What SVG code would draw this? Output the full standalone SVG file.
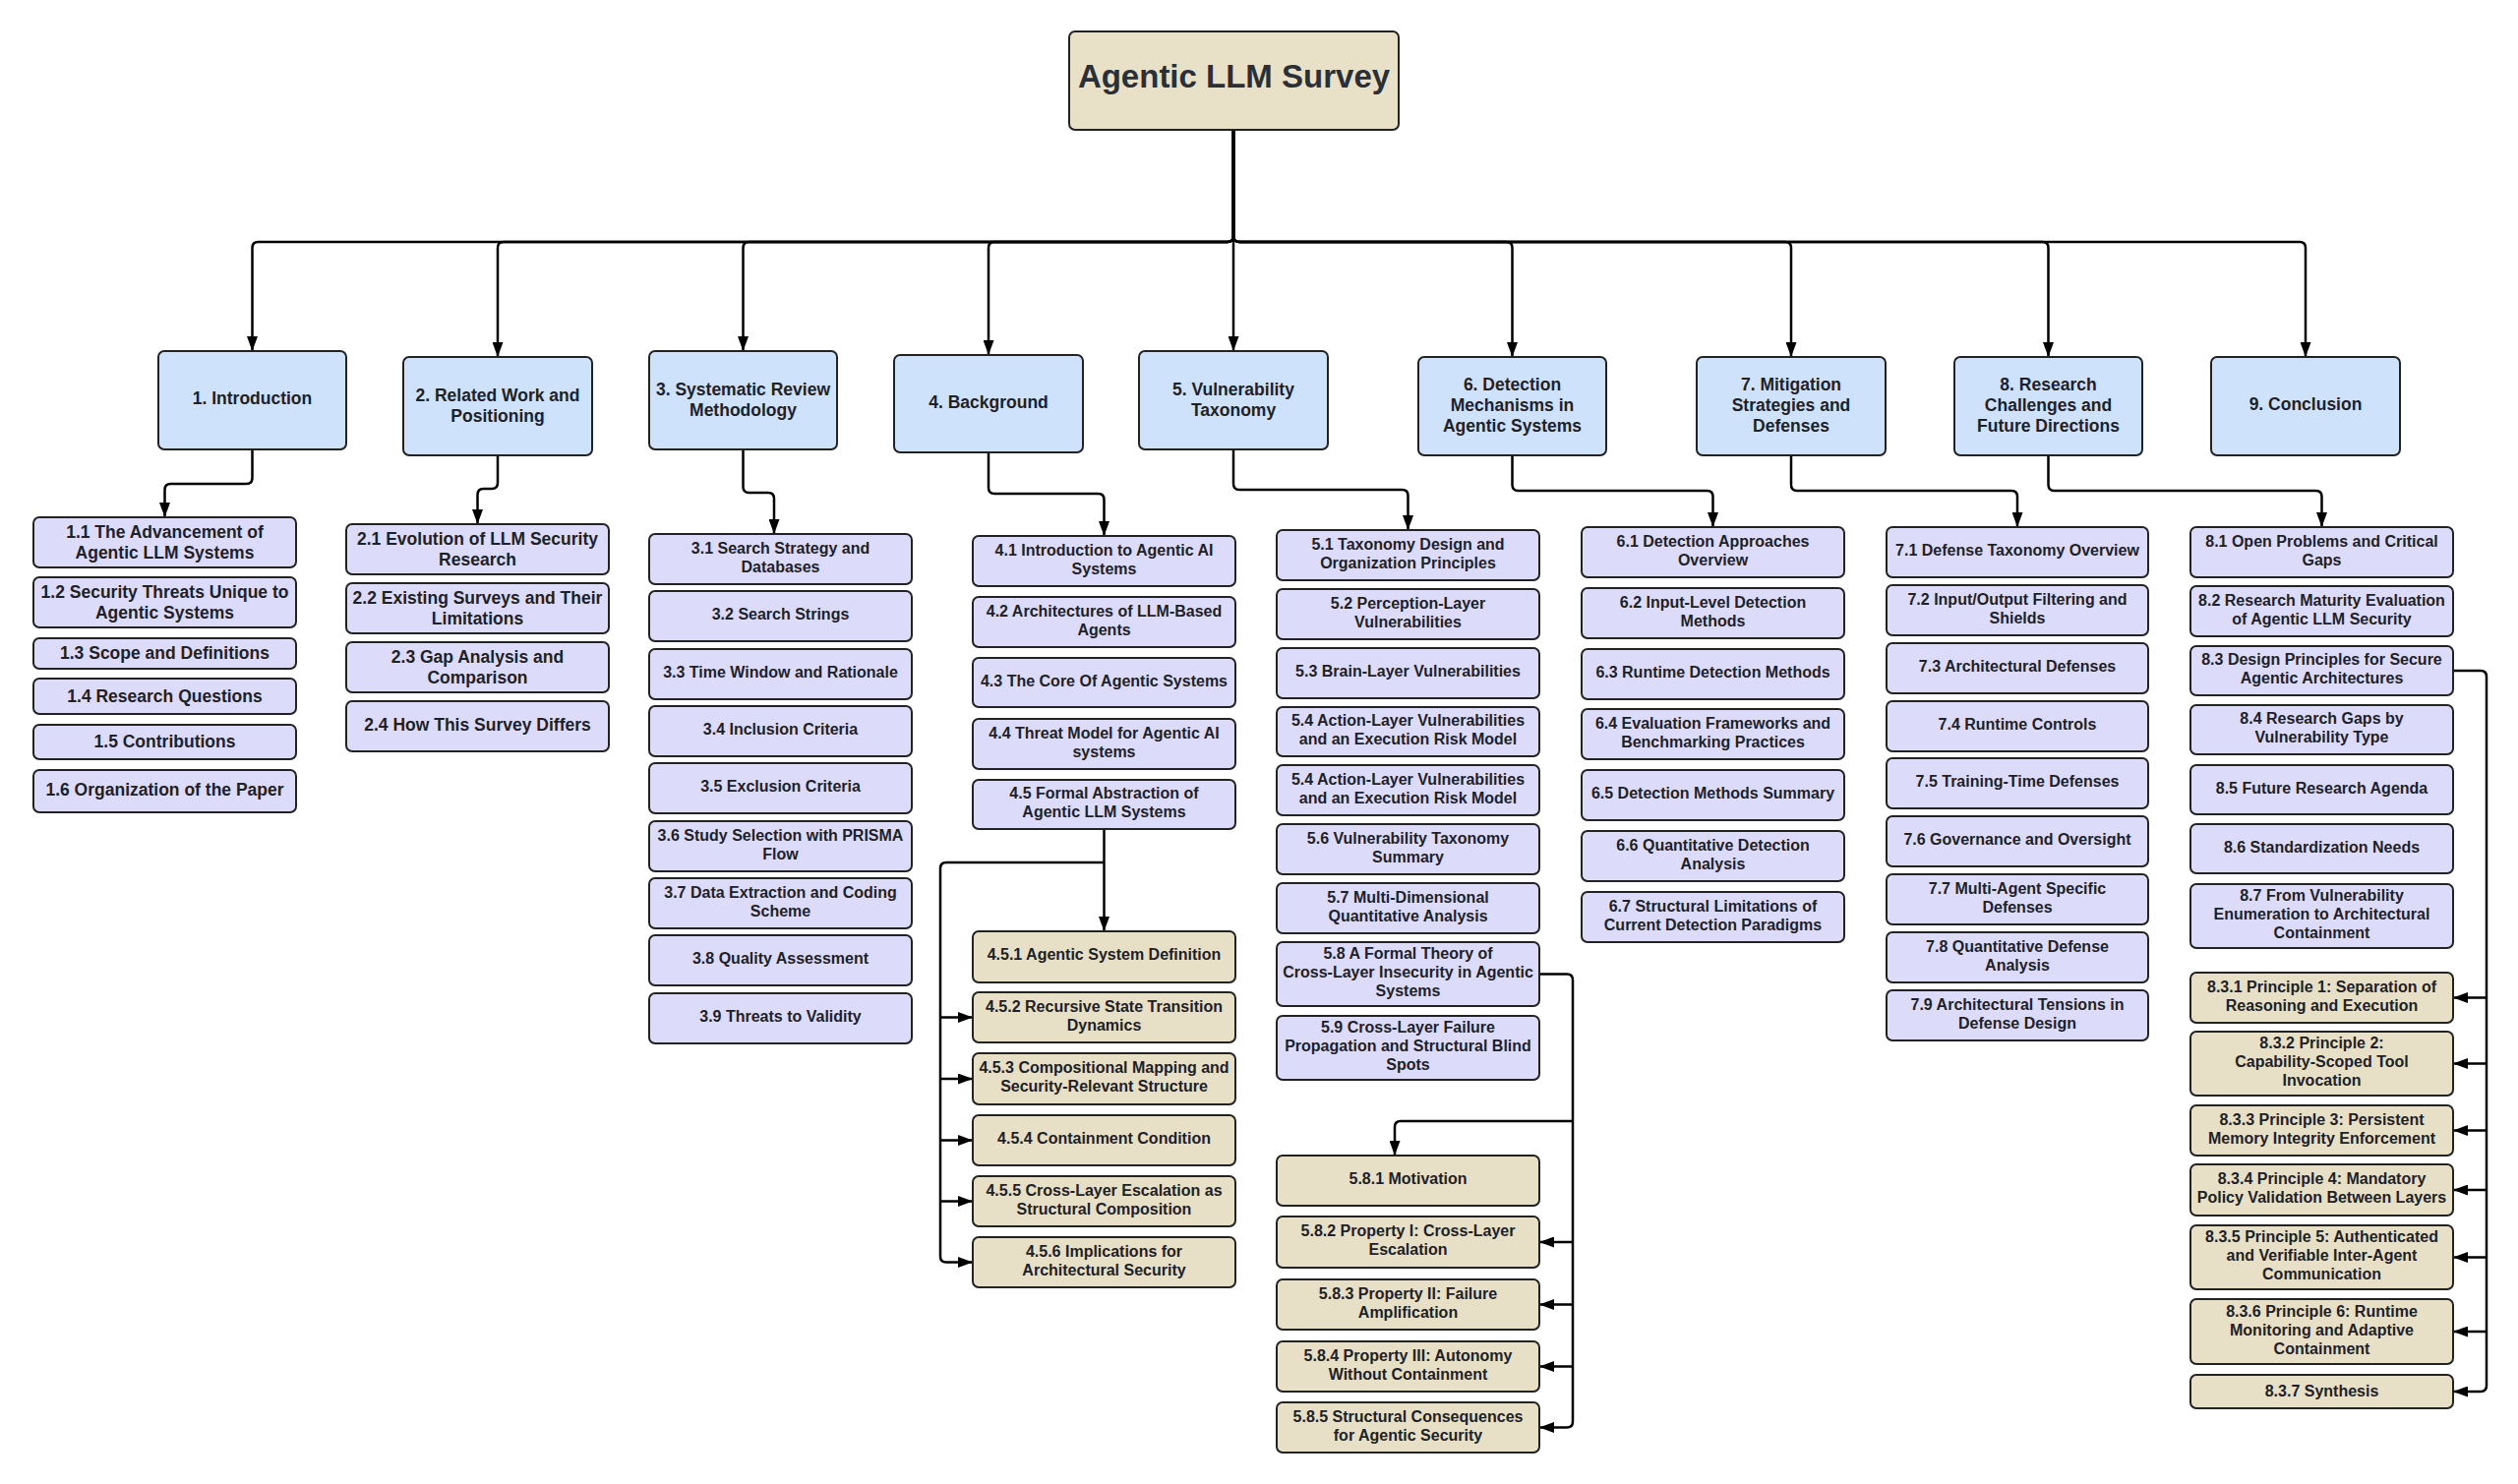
<svg xmlns="http://www.w3.org/2000/svg" width="2560" height="1509" viewBox="0 0 2560 1509">
<style>
.t{font-family:"Liberation Sans",Arial,sans-serif;font-weight:bold;fill:#1e2127;text-anchor:middle}
.f18{font-size:17.5px}
.f16{font-size:16px}
.rt{font-size:33px;fill:#2b2f38}
.top rect{fill:#cfe2fb;stroke:#222;stroke-width:2}
.sub rect{fill:#dcdcfa;stroke:#222;stroke-width:2}
.leaf rect{fill:#e7e0c6;stroke:#222;stroke-width:2}
.root rect{fill:#e8e1c7;stroke:#222;stroke-width:2}
.c path{fill:none;stroke:#000;stroke-width:2.5;marker-end:url(#ah)}
</style>
<defs>
<marker id="ah" viewBox="0 0 15 11" refX="15" refY="5.5" markerWidth="15" markerHeight="11" markerUnits="userSpaceOnUse" orient="auto"><path d="M0,0 L15,5.5 L0,11 z" fill="#000"/></marker>
</defs>
<rect width="2560" height="1509" fill="#fff"/>

<g class="c" id="connectors">
<path d="M1254,132 V240 Q1254,246 1248,246 H262.5 Q256.5,246 256.5,252 V357"/>
<path d="M1254,132 V240 Q1254,246 1248,246 H512 Q506,246 506,252 V363"/>
<path d="M1254,132 V240 Q1254,246 1248,246 H761.5 Q755.5,246 755.5,252 V357"/>
<path d="M1254,132 V240 Q1254,246 1248,246 H1011 Q1005,246 1005,252 V361"/>
<path d="M1254,132 V357"/>
<path d="M1254,132 V240 Q1254,246 1260,246 H1531.5 Q1537.5,246 1537.5,252 V363"/>
<path d="M1254,132 V240 Q1254,246 1260,246 H1815 Q1821,246 1821,252 V363"/>
<path d="M1254,132 V240 Q1254,246 1260,246 H2076.5 Q2082.5,246 2082.5,252 V363"/>
<path d="M1254,132 V240 Q1254,246 1260,246 H2338 Q2344,246 2344,252 V363"/>

<path d="M256.5,457 V486 Q256.5,492 250.5,492 H173.5 Q167.5,492 167.5,498 V526"/>
<path d="M506,463 V491 Q506,497 500,497 H491.5 Q485.5,497 485.5,503 V533"/>
<path d="M755.5,457 V495 Q755.5,501 761.5,501 H781 Q787,501 787,507 V543"/>
<path d="M1005,460 V496 Q1005,502 1011,502 H1116.5 Q1122.5,502 1122.5,508 V545"/>
<path d="M1254,457 V492 Q1254,498 1260,498 H1425.5 Q1431.5,498 1431.5,504 V539"/>
<path d="M1537.5,463 V493 Q1537.5,499 1543.5,499 H1735.5 Q1741.5,499 1741.5,505 V536"/>
<path d="M1821,463 V493 Q1821,499 1827,499 H2045 Q2051,499 2051,505 V536"/>
<path d="M2082.5,463 V493 Q2082.5,499 2088.5,499 H2354.5 Q2360.5,499 2360.5,505 V536"/>

<path d="M1122.5,843 V947"/>
<path d="M1122.5,877 H962 Q956,877 956,883 V1277.5 Q956,1283.5 962,1283.5 H989"/>
<path d="M956,1034.5 H989"/>
<path d="M956,1097 H989"/>
<path d="M956,1159.5 H989"/>
<path d="M956,1221.5 H989"/>

<path d="M1565,990.5 H1593 Q1599,990.5 1599,996.5 V1445.5 Q1599,1451.5 1593,1451.5 H1565"/>
<path d="M1599,1263 H1565"/>
<path d="M1599,1326.5 H1565"/>
<path d="M1599,1389.5 H1565"/>
<path d="M1599,1140 H1424 Q1418,1140 1418,1146 V1175"/>

<path d="M2494,682 H2522 Q2528,682 2528,688 V1409 Q2528,1415 2522,1415 H2494"/>
<path d="M2528,1014.5 H2494"/>
<path d="M2528,1081.5 H2494"/>
<path d="M2528,1149.5 H2494"/>
<path d="M2528,1210 H2494"/>
<path d="M2528,1278.5 H2494"/>
<path d="M2528,1354 H2494"/>
</g>

<g class="root" id="root"><rect x="1087" y="32" width="335" height="100" rx="6"/><text class="t rt" x="1254.5" y="88.5">Agentic LLM Survey</text></g>

<g class="top" id="s1"><rect x="161" y="357" width="191" height="100" rx="6"/><text class="t f18" x="256.5" y="411">1. Introduction</text></g>
<g class="top" id="s2"><rect x="410" y="363" width="192" height="100" rx="6"/><text class="t f18" x="506" y="408">2. Related Work and</text><text class="t f18" x="506" y="429">Positioning</text></g>
<g class="top" id="s3"><rect x="660" y="357" width="191" height="100" rx="6"/><text class="t f18" x="755.5" y="402">3. Systematic Review</text><text class="t f18" x="755.5" y="423">Methodology</text></g>
<g class="top" id="s4"><rect x="909" y="361" width="192" height="99" rx="6"/><text class="t f18" x="1005" y="414.5">4. Background</text></g>
<g class="top" id="s5"><rect x="1158" y="357" width="192" height="100" rx="6"/><text class="t f18" x="1254" y="402">5. Vulnerability</text><text class="t f18" x="1254" y="423">Taxonomy</text></g>
<g class="top" id="s6"><rect x="1442" y="363" width="191" height="100" rx="6"/><text class="t f18" x="1537.5" y="397">6. Detection</text><text class="t f18" x="1537.5" y="418">Mechanisms in</text><text class="t f18" x="1537.5" y="439">Agentic Systems</text></g>
<g class="top" id="s7"><rect x="1725" y="363" width="192" height="100" rx="6"/><text class="t f18" x="1821" y="397">7. Mitigation</text><text class="t f18" x="1821" y="418">Strategies and</text><text class="t f18" x="1821" y="439">Defenses</text></g>
<g class="top" id="s8"><rect x="1987" y="363" width="191" height="100" rx="6"/><text class="t f18" x="2082.5" y="397">8. Research</text><text class="t f18" x="2082.5" y="418">Challenges and</text><text class="t f18" x="2082.5" y="439">Future Directions</text></g>
<g class="top" id="s9"><rect x="2248" y="363" width="192" height="100" rx="6"/><text class="t f18" x="2344" y="417">9. Conclusion</text></g>

<g class="sub" id="s1_1"><rect x="34" y="526" width="267" height="51" rx="6"/><text class="t f18" x="167.5" y="547">1.1 The Advancement of</text><text class="t f18" x="167.5" y="568">Agentic LLM Systems</text></g>
<g class="sub" id="s1_2"><rect x="34" y="587" width="267" height="51" rx="6"/><text class="t f18" x="167.5" y="608">1.2 Security Threats Unique to</text><text class="t f18" x="167.5" y="629">Agentic Systems</text></g>
<g class="sub" id="s1_3"><rect x="34" y="649" width="267" height="31" rx="6"/><text class="t f18" x="167.5" y="670">1.3 Scope and Definitions</text></g>
<g class="sub" id="s1_4"><rect x="34" y="690" width="267" height="36" rx="6"/><text class="t f18" x="167.5" y="713.5">1.4 Research Questions</text></g>
<g class="sub" id="s1_5"><rect x="34" y="737" width="267" height="35" rx="6"/><text class="t f18" x="167.5" y="760">1.5 Contributions</text></g>
<g class="sub" id="s1_6"><rect x="34" y="783" width="267" height="43" rx="6"/><text class="t f18" x="167.5" y="808.5">1.6 Organization of the Paper</text></g>

<g class="sub" id="s2_1"><rect x="352" y="533" width="267" height="51" rx="6"/><text class="t f18" x="485.5" y="554">2.1 Evolution of LLM Security</text><text class="t f18" x="485.5" y="575">Research</text></g>
<g class="sub" id="s2_2"><rect x="352" y="593" width="267" height="51" rx="6"/><text class="t f18" x="485.5" y="614">2.2 Existing Surveys and Their</text><text class="t f18" x="485.5" y="635">Limitations</text></g>
<g class="sub" id="s2_3"><rect x="352" y="653" width="267" height="51" rx="6"/><text class="t f18" x="485.5" y="674">2.3 Gap Analysis and</text><text class="t f18" x="485.5" y="695">Comparison</text></g>
<g class="sub" id="s2_4"><rect x="352" y="713" width="267" height="51" rx="6"/><text class="t f18" x="485.5" y="742.5">2.4 How This Survey Differs</text></g>

<g class="sub" id="s3_1"><rect x="660" y="543" width="267" height="51" rx="6"/><text class="t f16" x="793.5" y="562.5">3.1 Search Strategy and</text><text class="t f16" x="793.5" y="581.5">Databases</text></g>
<g class="sub" id="s3_2"><rect x="660" y="601" width="267" height="51" rx="6"/><text class="t f16" x="793.5" y="630">3.2 Search Strings</text></g>
<g class="sub" id="s3_3"><rect x="660" y="660" width="267" height="51" rx="6"/><text class="t f16" x="793.5" y="689">3.3 Time Window and Rationale</text></g>
<g class="sub" id="s3_4"><rect x="660" y="718" width="267" height="51" rx="6"/><text class="t f16" x="793.5" y="747">3.4 Inclusion Criteria</text></g>
<g class="sub" id="s3_5"><rect x="660" y="776" width="267" height="51" rx="6"/><text class="t f16" x="793.5" y="805">3.5 Exclusion Criteria</text></g>
<g class="sub" id="s3_6"><rect x="660" y="835" width="267" height="51" rx="6"/><text class="t f16" x="793.5" y="854.5">3.6 Study Selection with PRISMA</text><text class="t f16" x="793.5" y="873.5">Flow</text></g>
<g class="sub" id="s3_7"><rect x="660" y="893" width="267" height="51" rx="6"/><text class="t f16" x="793.5" y="912.5">3.7 Data Extraction and Coding</text><text class="t f16" x="793.5" y="931.5">Scheme</text></g>
<g class="sub" id="s3_8"><rect x="660" y="951" width="267" height="51" rx="6"/><text class="t f16" x="793.5" y="980">3.8 Quality Assessment</text></g>
<g class="sub" id="s3_9"><rect x="660" y="1010" width="267" height="51" rx="6"/><text class="t f16" x="793.5" y="1039">3.9 Threats to Validity</text></g>

<g class="sub" id="s4_1"><rect x="989" y="545" width="267" height="51" rx="6"/><text class="t f16" x="1122.5" y="564.5">4.1 Introduction to Agentic AI</text><text class="t f16" x="1122.5" y="583.5">Systems</text></g>
<g class="sub" id="s4_2"><rect x="989" y="607" width="267" height="51" rx="6"/><text class="t f16" x="1122.5" y="626.5">4.2 Architectures of LLM-Based</text><text class="t f16" x="1122.5" y="645.5">Agents</text></g>
<g class="sub" id="s4_3"><rect x="989" y="669" width="267" height="50" rx="6"/><text class="t f16" x="1122.5" y="697.5">4.3 The Core Of Agentic Systems</text></g>
<g class="sub" id="s4_4"><rect x="989" y="731" width="267" height="51" rx="6"/><text class="t f16" x="1122.5" y="750.5">4.4 Threat Model for Agentic AI</text><text class="t f16" x="1122.5" y="769.5">systems</text></g>
<g class="sub" id="s4_5"><rect x="989" y="793" width="267" height="50" rx="6"/><text class="t f16" x="1122.5" y="812">4.5 Formal Abstraction of</text><text class="t f16" x="1122.5" y="831">Agentic LLM Systems</text></g>
<g class="leaf" id="s4_5_1"><rect x="989" y="947" width="267" height="52" rx="6"/><text class="t f16" x="1122.5" y="975.5">4.5.1 Agentic System Definition</text></g>
<g class="leaf" id="s4_5_2"><rect x="989" y="1009" width="267" height="51" rx="6"/><text class="t f16" x="1122.5" y="1028.5">4.5.2 Recursive State Transition</text><text class="t f16" x="1122.5" y="1047.5">Dynamics</text></g>
<g class="leaf" id="s4_5_3"><rect x="989" y="1071" width="267" height="52" rx="6"/><text class="t f16" x="1122.5" y="1091">4.5.3 Compositional Mapping and</text><text class="t f16" x="1122.5" y="1110">Security-Relevant Structure</text></g>
<g class="leaf" id="s4_5_4"><rect x="989" y="1134" width="267" height="51" rx="6"/><text class="t f16" x="1122.5" y="1163">4.5.4 Containment Condition</text></g>
<g class="leaf" id="s4_5_5"><rect x="989" y="1196" width="267" height="51" rx="6"/><text class="t f16" x="1122.5" y="1215.5">4.5.5 Cross-Layer Escalation as</text><text class="t f16" x="1122.5" y="1234.5">Structural Composition</text></g>
<g class="leaf" id="s4_5_6"><rect x="989" y="1258" width="267" height="51" rx="6"/><text class="t f16" x="1122.5" y="1277.5">4.5.6 Implications for</text><text class="t f16" x="1122.5" y="1296.5">Architectural Security</text></g>

<g class="sub" id="s5_1"><rect x="1298" y="539" width="267" height="51" rx="6"/><text class="t f16" x="1431.5" y="558.5">5.1 Taxonomy Design and</text><text class="t f16" x="1431.5" y="577.5">Organization Principles</text></g>
<g class="sub" id="s5_2"><rect x="1298" y="599" width="267" height="51" rx="6"/><text class="t f16" x="1431.5" y="618.5">5.2 Perception-Layer</text><text class="t f16" x="1431.5" y="637.5">Vulnerabilities</text></g>
<g class="sub" id="s5_3"><rect x="1298" y="659" width="267" height="51" rx="6"/><text class="t f16" x="1431.5" y="688">5.3 Brain-Layer Vulnerabilities</text></g>
<g class="sub" id="s5_4a"><rect x="1298" y="719" width="267" height="50" rx="6"/><text class="t f16" x="1431.5" y="738">5.4 Action-Layer Vulnerabilities</text><text class="t f16" x="1431.5" y="757">and an Execution Risk Model</text></g>
<g class="sub" id="s5_4b"><rect x="1298" y="778" width="267" height="51" rx="6"/><text class="t f16" x="1431.5" y="797.5">5.4 Action-Layer Vulnerabilities</text><text class="t f16" x="1431.5" y="816.5">and an Execution Risk Model</text></g>
<g class="sub" id="s5_6"><rect x="1298" y="838" width="267" height="51" rx="6"/><text class="t f16" x="1431.5" y="857.5">5.6 Vulnerability Taxonomy</text><text class="t f16" x="1431.5" y="876.5">Summary</text></g>
<g class="sub" id="s5_7"><rect x="1298" y="898" width="267" height="51" rx="6"/><text class="t f16" x="1431.5" y="917.5">5.7 Multi-Dimensional</text><text class="t f16" x="1431.5" y="936.5">Quantitative Analysis</text></g>
<g class="sub" id="s5_8"><rect x="1298" y="958" width="267" height="65" rx="6"/><text class="t f16" x="1431.5" y="975">5.8 A Formal Theory of</text><text class="t f16" x="1431.5" y="994">Cross-Layer Insecurity in Agentic</text><text class="t f16" x="1431.5" y="1013">Systems</text></g>
<g class="sub" id="s5_9"><rect x="1298" y="1033" width="267" height="65" rx="6"/><text class="t f16" x="1431.5" y="1050">5.9 Cross-Layer Failure</text><text class="t f16" x="1431.5" y="1069">Propagation and Structural Blind</text><text class="t f16" x="1431.5" y="1088">Spots</text></g>
<g class="leaf" id="s5_8_1"><rect x="1298" y="1175" width="267" height="51" rx="6"/><text class="t f16" x="1431.5" y="1204">5.8.1 Motivation</text></g>
<g class="leaf" id="s5_8_2"><rect x="1298" y="1237" width="267" height="52" rx="6"/><text class="t f16" x="1431.5" y="1257">5.8.2 Property I: Cross-Layer</text><text class="t f16" x="1431.5" y="1276">Escalation</text></g>
<g class="leaf" id="s5_8_3"><rect x="1298" y="1301" width="267" height="51" rx="6"/><text class="t f16" x="1431.5" y="1320.5">5.8.3 Property II: Failure</text><text class="t f16" x="1431.5" y="1339.5">Amplification</text></g>
<g class="leaf" id="s5_8_4"><rect x="1298" y="1364" width="267" height="51" rx="6"/><text class="t f16" x="1431.5" y="1383.5">5.8.4 Property III: Autonomy</text><text class="t f16" x="1431.5" y="1402.5">Without Containment</text></g>
<g class="leaf" id="s5_8_5"><rect x="1298" y="1426" width="267" height="51" rx="6"/><text class="t f16" x="1431.5" y="1445.5">5.8.5 Structural Consequences</text><text class="t f16" x="1431.5" y="1464.5">for Agentic Security</text></g>

<g class="sub" id="s6_1"><rect x="1608" y="536" width="267" height="51" rx="6"/><text class="t f16" x="1741.5" y="555.5">6.1 Detection Approaches</text><text class="t f16" x="1741.5" y="574.5">Overview</text></g>
<g class="sub" id="s6_2"><rect x="1608" y="598" width="267" height="51" rx="6"/><text class="t f16" x="1741.5" y="617.5">6.2 Input-Level Detection</text><text class="t f16" x="1741.5" y="636.5">Methods</text></g>
<g class="sub" id="s6_3"><rect x="1608" y="660" width="267" height="51" rx="6"/><text class="t f16" x="1741.5" y="689">6.3 Runtime Detection Methods</text></g>
<g class="sub" id="s6_4"><rect x="1608" y="721" width="267" height="51" rx="6"/><text class="t f16" x="1741.5" y="740.5">6.4 Evaluation Frameworks and</text><text class="t f16" x="1741.5" y="759.5">Benchmarking Practices</text></g>
<g class="sub" id="s6_5"><rect x="1608" y="783" width="267" height="51" rx="6"/><text class="t f16" x="1741.5" y="812">6.5 Detection Methods Summary</text></g>
<g class="sub" id="s6_6"><rect x="1608" y="845" width="267" height="51" rx="6"/><text class="t f16" x="1741.5" y="864.5">6.6 Quantitative Detection</text><text class="t f16" x="1741.5" y="883.5">Analysis</text></g>
<g class="sub" id="s6_7"><rect x="1608" y="907" width="267" height="51" rx="6"/><text class="t f16" x="1741.5" y="926.5">6.7 Structural Limitations of</text><text class="t f16" x="1741.5" y="945.5">Current Detection Paradigms</text></g>

<g class="sub" id="s7_1"><rect x="1918" y="536" width="266" height="51" rx="6"/><text class="t f16" x="2051" y="565">7.1 Defense Taxonomy Overview</text></g>
<g class="sub" id="s7_2"><rect x="1918" y="595" width="266" height="51" rx="6"/><text class="t f16" x="2051" y="614.5">7.2 Input/Output Filtering and</text><text class="t f16" x="2051" y="633.5">Shields</text></g>
<g class="sub" id="s7_3"><rect x="1918" y="654" width="266" height="51" rx="6"/><text class="t f16" x="2051" y="683">7.3 Architectural Defenses</text></g>
<g class="sub" id="s7_4"><rect x="1918" y="713" width="266" height="51" rx="6"/><text class="t f16" x="2051" y="742">7.4 Runtime Controls</text></g>
<g class="sub" id="s7_5"><rect x="1918" y="771" width="266" height="51" rx="6"/><text class="t f16" x="2051" y="800">7.5 Training-Time Defenses</text></g>
<g class="sub" id="s7_6"><rect x="1918" y="830" width="266" height="51" rx="6"/><text class="t f16" x="2051" y="859">7.6 Governance and Oversight</text></g>
<g class="sub" id="s7_7"><rect x="1918" y="889" width="266" height="51" rx="6"/><text class="t f16" x="2051" y="908.5">7.7 Multi-Agent Specific</text><text class="t f16" x="2051" y="927.5">Defenses</text></g>
<g class="sub" id="s7_8"><rect x="1918" y="948" width="266" height="51" rx="6"/><text class="t f16" x="2051" y="967.5">7.8 Quantitative Defense</text><text class="t f16" x="2051" y="986.5">Analysis</text></g>
<g class="sub" id="s7_9"><rect x="1918" y="1007" width="266" height="51" rx="6"/><text class="t f16" x="2051" y="1026.5">7.9 Architectural Tensions in</text><text class="t f16" x="2051" y="1045.5">Defense Design</text></g>

<g class="sub" id="s8_1"><rect x="2227" y="536" width="267" height="51" rx="6"/><text class="t f16" x="2360.5" y="555.5">8.1 Open Problems and Critical</text><text class="t f16" x="2360.5" y="574.5">Gaps</text></g>
<g class="sub" id="s8_2"><rect x="2227" y="596" width="267" height="51" rx="6"/><text class="t f16" x="2360.5" y="615.5">8.2 Research Maturity Evaluation</text><text class="t f16" x="2360.5" y="634.5">of Agentic LLM Security</text></g>
<g class="sub" id="s8_3"><rect x="2227" y="657" width="267" height="50" rx="6"/><text class="t f16" x="2360.5" y="676">8.3 Design Principles for Secure</text><text class="t f16" x="2360.5" y="695">Agentic Architectures</text></g>
<g class="sub" id="s8_4"><rect x="2227" y="717" width="267" height="50" rx="6"/><text class="t f16" x="2360.5" y="736">8.4 Research Gaps by</text><text class="t f16" x="2360.5" y="755">Vulnerability Type</text></g>
<g class="sub" id="s8_5"><rect x="2227" y="778" width="267" height="50" rx="6"/><text class="t f16" x="2360.5" y="806.5">8.5 Future Research Agenda</text></g>
<g class="sub" id="s8_6"><rect x="2227" y="838" width="267" height="50" rx="6"/><text class="t f16" x="2360.5" y="866.5">8.6 Standardization Needs</text></g>
<g class="sub" id="s8_7"><rect x="2227" y="899" width="267" height="65" rx="6"/><text class="t f16" x="2360.5" y="916">8.7 From Vulnerability</text><text class="t f16" x="2360.5" y="935">Enumeration to Architectural</text><text class="t f16" x="2360.5" y="954">Containment</text></g>
<g class="leaf" id="s8_3_1"><rect x="2227" y="989" width="267" height="51" rx="6"/><text class="t f16" x="2360.5" y="1008.5">8.3.1 Principle 1: Separation of</text><text class="t f16" x="2360.5" y="1027.5">Reasoning and Execution</text></g>
<g class="leaf" id="s8_3_2"><rect x="2227" y="1049" width="267" height="65" rx="6"/><text class="t f16" x="2360.5" y="1066">8.3.2 Principle 2:</text><text class="t f16" x="2360.5" y="1085">Capability-Scoped Tool</text><text class="t f16" x="2360.5" y="1104">Invocation</text></g>
<g class="leaf" id="s8_3_3"><rect x="2227" y="1124" width="267" height="51" rx="6"/><text class="t f16" x="2360.5" y="1143.5">8.3.3 Principle 3: Persistent</text><text class="t f16" x="2360.5" y="1162.5">Memory Integrity Enforcement</text></g>
<g class="leaf" id="s8_3_4"><rect x="2227" y="1184" width="267" height="52" rx="6"/><text class="t f16" x="2360.5" y="1204">8.3.4 Principle 4: Mandatory</text><text class="t f16" x="2360.5" y="1223">Policy Validation Between Layers</text></g>
<g class="leaf" id="s8_3_5"><rect x="2227" y="1246" width="267" height="65" rx="6"/><text class="t f16" x="2360.5" y="1263">8.3.5 Principle 5: Authenticated</text><text class="t f16" x="2360.5" y="1282">and Verifiable Inter-Agent</text><text class="t f16" x="2360.5" y="1301">Communication</text></g>
<g class="leaf" id="s8_3_6"><rect x="2227" y="1321" width="267" height="66" rx="6"/><text class="t f16" x="2360.5" y="1338.5">8.3.6 Principle 6: Runtime</text><text class="t f16" x="2360.5" y="1357.5">Monitoring and Adaptive</text><text class="t f16" x="2360.5" y="1376.5">Containment</text></g>
<g class="leaf" id="s8_3_7"><rect x="2227" y="1398" width="267" height="34" rx="6"/><text class="t f16" x="2360.5" y="1420">8.3.7 Synthesis</text></g>
</svg>
